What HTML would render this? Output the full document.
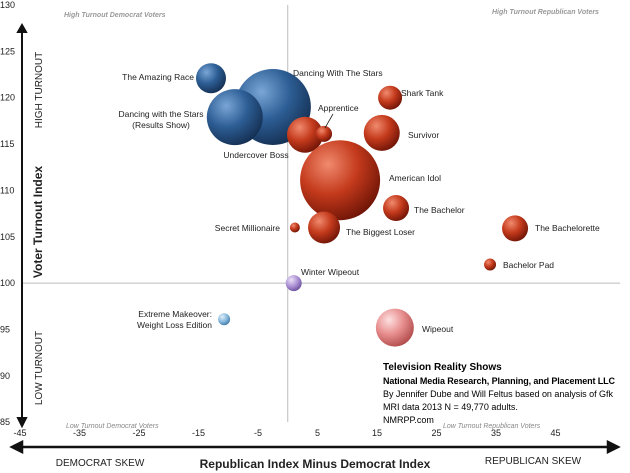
<!DOCTYPE html>
<html><head><meta charset="utf-8"><style>
body{margin:0;background:#fff;font-family:"Liberation Sans",sans-serif}
svg{display:block}
</style></head><body>
<svg id="chart" width="630" height="473">
<defs>
<radialGradient id="gBlue" cx="35%" cy="30%" r="75%"><stop offset="0" stop-color="#7aa6d6"/><stop offset="0.5" stop-color="#2d5e95"/><stop offset="1" stop-color="#142f52"/></radialGradient>
<radialGradient id="gRed" cx="35%" cy="30%" r="75%"><stop offset="0" stop-color="#f08a6e"/><stop offset="0.5" stop-color="#c43a1c"/><stop offset="1" stop-color="#6e1406"/></radialGradient>
<radialGradient id="gPink" cx="35%" cy="30%" r="75%"><stop offset="0" stop-color="#fde0e0"/><stop offset="0.5" stop-color="#e88f8f"/><stop offset="1" stop-color="#b04a4a"/></radialGradient>
<radialGradient id="gPurple" cx="35%" cy="30%" r="75%"><stop offset="0" stop-color="#ece0f8"/><stop offset="0.6" stop-color="#a58ad0"/><stop offset="1" stop-color="#6a4f9a"/></radialGradient>
<radialGradient id="gLight" cx="35%" cy="30%" r="75%"><stop offset="0" stop-color="#e2f0fa"/><stop offset="0.6" stop-color="#7fb2d8"/><stop offset="1" stop-color="#3e78a8"/></radialGradient>
</defs>
<g id="axes"></g>
<g id="marks"></g>
<g id="labels"></g>
</svg>
<script>
const shows=["The Amazing Race","Dancing With The Stars","Dancing with the Stars (Results Show)","Undercover Boss","Apprentice","Shark Tank","Survivor","American Idol","The Bachelor","The Bachelorette","Bachelor Pad","Secret Millionaire","The Biggest Loser","Winter Wipeout","Extreme Makeover: Weight Loss Edition","Wipeout"];
const xValues=[-12.9,-2.5,-8.9,2.9,6.1,17.2,15.8,8.8,18.2,38.2,34.0,1.2,6.1,1.0,-10.7,18.0];
const yValues=[122.1,119.0,117.9,116.0,116.1,120.0,116.2,111.1,108.1,105.9,102.0,106.0,106.0,100.0,96.1,95.2];
const sizes=[15,38,28,18,8,12,18,40,13,13,6,5,16,8,6,19];
const colors=["gBlue","gBlue","gBlue","gRed","gRed","gRed","gRed","gRed","gRed","gRed","gRed","gRed","gRed","gPurple","gLight","gPink"];
const xTicks=[-45,-35,-25,-15,-5,5,15,25,35,45];
const yTicks=[85,90,95,100,105,110,115,120,125,130];
const NS="http://www.w3.org/2000/svg";
const X=v=>20+(v+45)*5.95;
const Y=v=>5+(130-v)*9.27;
function el(tag,attrs,parent,text){const e=document.createElementNS(NS,tag);for(const k in attrs)e.setAttribute(k,attrs[k]);if(text!==undefined)e.textContent=text;parent.appendChild(e);return e;}
const ax=document.getElementById('axes'),mk=document.getElementById('marks'),lb=document.getElementById('labels');
let e;
e=el('line',{x1:X(0),y1:5,x2:X(0),y2:422,stroke:'#bbb','stroke-width':1},ax);

e=el('line',{x1:22,y1:Y(100),x2:620,y2:Y(100),stroke:'#bbb','stroke-width':1},ax);

e=el('path',{d:'M22 32 L22 420 M18 418 L22 426 L26 418 Z M18 32 L22 25 L26 32 Z',stroke:'#111','stroke-width':2,fill:'#111'},ax);

e=el('path',{d:'M18 447 L612 447 M22 442 L12 447 L22 452 Z M608 442 L618 447 L608 452 Z',stroke:'#111','stroke-width':2.5,fill:'#111'},ax);

xTicks.forEach(t=>{e=el('text',{x:X(t),y:436,'font-size':9,'text-anchor':'middle',fill:'#222'},ax,String(t));
});
yTicks.forEach(t=>{e=el('text',{x:0,y:Y(t)+3,'font-size':9,'text-anchor':'start',fill:'#222'},ax,String(t));
});
function txt(x,y,s,attrs,name,parent){const a=Object.assign({x:x,y:y,fill:'#222','font-size':9},attrs);const t=el('text',a,parent||ax,s);return t;}
txt(64,17,'High Turnout Democrat Voters',{'font-size':7,'font-style':'italic','font-weight':'bold',fill:'#999'},'quadrant-label-tl');
txt(492,14,'High Turnout Republican Voters',{'font-size':7,'font-style':'italic','font-weight':'bold',fill:'#999'},'quadrant-label-tr');
txt(66,428,'Low Turnout Democrat Voters',{'font-size':7,'font-style':'italic',fill:'#888'},'quadrant-label-bl');
txt(443,428,'Low Turnout Republican Voters',{'font-size':7,'font-style':'italic',fill:'#888'},'quadrant-label-br');
txt(0,0,'Voter Turnout Index',{'font-size':12,'font-weight':'bold','text-anchor':'middle',transform:'translate(42,222) rotate(-90)'},'y-axis-title');
txt(0,0,'HIGH  TURNOUT',{'font-size':10,'text-anchor':'middle',transform:'translate(42,90) rotate(-90)'},'high-turnout-label');
txt(0,0,'LOW  TURNOUT',{'font-size':10,'text-anchor':'middle',transform:'translate(42,368) rotate(-90)'},'low-turnout-label');
txt(100,466,'DEMOCRAT SKEW',{'font-size':10,'text-anchor':'middle'},'democrat-skew-label');
txt(315,468,'Republican Index Minus Democrat Index',{'font-size':12,'font-weight':'bold','text-anchor':'middle'},'x-axis-title');
txt(533,464,'REPUBLICAN SKEW',{'font-size':10,'text-anchor':'middle'},'republican-skew-label');
txt(383,370,'Television Reality Shows',{'font-size':10,'font-weight':'bold',fill:'#000'},'note-title');
txt(383,384,'National Media Research, Planning, and Placement LLC',{'font-size':9,'font-weight':'bold',fill:'#000',textLength:232},'note-org');
txt(383,397,'By Jennifer Dube and Will Feltus based on analysis of Gfk',{'font-size':9,fill:'#000',textLength:230},'note-authors');
txt(383,410,'MRI data 2013 N = 49,770 adults.',{'font-size':9,fill:'#000'},'note-data');
txt(383,423,'NMRPP.com',{'font-size':9,fill:'#000'},'note-url');
shows.forEach((s,i)=>{const c=el('circle',{cx:X(xValues[i]),cy:Y(yValues[i]),r:sizes[i],fill:'url(#'+colors[i]+')'},mk);

});
const labels=[
[194,80,'The Amazing Race','end'],[293,76,'Dancing With The Stars','start'],[161,117,'Dancing with the Stars','middle'],[161,128,'(Results Show)','middle'],
[256,158,'Undercover Boss','middle'],[318,111,'Apprentice','start'],[401,96,'Shark Tank','start'],[408,138,'Survivor','start'],
[389,181,'American Idol','start'],[414,213,'The Bachelor','start'],[535,231,'The Bachelorette','start'],[503,268,'Bachelor Pad','start'],
[280,231,'Secret Millionaire','end'],[346,235,'The Biggest Loser','start'],[301,275,'Winter Wipeout','start'],
[212,317,'Extreme Makeover:','end'],[212,328,'Weight Loss Edition','end'],[422,332,'Wipeout','start']];
labels.forEach(l=>{txt(l[0],l[1],l[2],{'font-size':8.5,'text-anchor':l[3]},'bubble-label',lb);});
e=el('line',{x1:333,y1:114,x2:325,y2:128,stroke:'#222','stroke-width':0.8},lb);
</script>
</body></html>
